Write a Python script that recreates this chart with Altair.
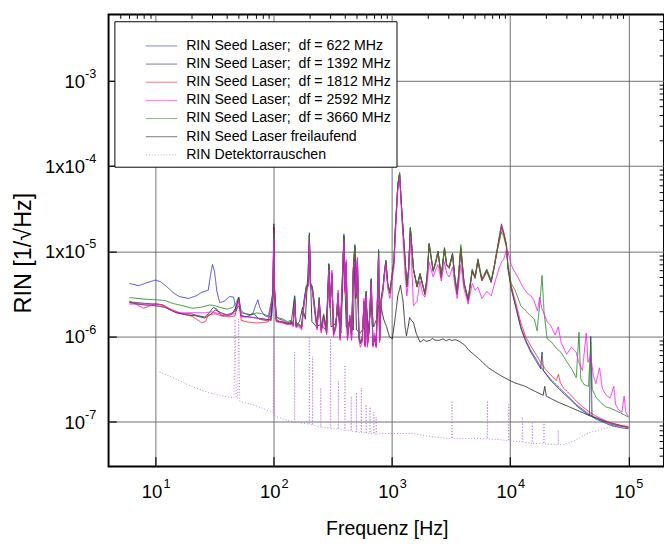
import altair as alt
import pandas as pd

FONT = "Liberation Sans, Arial, sans-serif"
XMIN, XMAX = 4, 2e5
YMIN, YMAX = 3e-8, 6e-3
W, H = 569, 463

XMAJOR = [10, 100, 1000, 10000, 100000]
XMINOR = [5, 6, 7, 8, 9, 20, 30, 40, 50, 60, 70, 80, 90,
          200, 300, 400, 500, 600, 700, 800, 900,
          2000, 3000, 4000, 5000, 6000, 7000, 8000, 9000,
          20000, 30000, 40000, 50000, 60000, 70000, 80000, 90000]
YMAJOR = [1e-7, 1e-6, 1e-5, 1e-4, 1e-3]
YMINOR = [4e-8, 5e-8, 6e-8, 7e-8, 8e-8, 9e-8,
          2e-7, 3e-7, 4e-7, 5e-7, 6e-7, 7e-7, 8e-7, 9e-7,
          2e-6, 3e-6, 4e-6, 5e-6, 6e-6, 7e-6, 8e-6, 9e-6,
          2e-5, 3e-5, 4e-5, 5e-5, 6e-5, 7e-5, 8e-5, 9e-5,
          2e-4, 3e-4, 4e-4, 5e-4, 6e-4, 7e-4, 8e-4, 9e-4,
          2e-3, 3e-3, 4e-3, 5e-3]
XLAB_BASE = ["10", "10", "10", "10", "10"]
XLAB_EXP = ["1", "2", "3", "4", "5"]
YLAB_BASE = ["10", "10", "1x10", "1x10", "10"]
YLAB_EXP = ["-7", "-6", "-5", "-4", "-3"]

S622 = [(6.0,4.2e-6),(7.2,3.95e-6),(8.5,4.3e-6),(10,4.6e-6),(11,4.4e-6),(12.3,3.9e-6),(14,3.3e-6),(15.8,2.95e-6),(19,2.8e-6),(22,3.0e-6),(24.6,3.3e-6),(27.9,3.5e-6),(29.3,5.5e-6),(30.3,7.0e-6),(31.5,5.8e-6),(33,3.4e-6),(34.9,2.5e-6),(38,2.6e-6),(42.3,2.95e-6),(45.8,2.9e-6),(47.9,2.0e-6),(50.5,2.3e-6),(53,1.9e-6),(58,1.85e-6),(63,1.8e-6),(67,1.9e-6),(70,2.3e-6),(73.3,2.7e-6),(76,2.2e-6),(79.5,1.95e-6),(84,1.75e-6),(90,1.7e-6),(96,1.75e-6),(98.5,3.5e-6),(100,1.9e-5),(101.5,3.5e-6),(105,1.7e-6),
        (112,1.6e-6),(120,1.55e-6),(130,1.45e-6),(140,1.5e-6),(146,1.4e-6),(150,2.8e-6),(154,1.35e-6),(162,1.4e-6),(172,1.3e-6),(180,2.6e-6),(188,3.8e-6),(196,4.2e-6),(200,1.55e-5),(204,4.2e-6),(212,3.8e-6),(222,2.2e-6),(232,1.3e-6),(242,2.8e-6),(252,1.2e-6),(264,1.8e-6),(280,1.15e-6),(292,7.2e-6),(300,2.4e-6),(310,5.5e-6),(320,1.1e-6),(335,1.35e-6),(350,3.2e-6),(364,1.0e-6),(380,4.5e-6),(392,1.6e-5),(401,3.6e-6),(410,7.5e-6),(420,1.0e-6),(440,1.7e-6),(455,1.0e-6),(470,6.0e-6),(485,1.2e-5),(495,3.0e-6),(510,8.0e-6),(525,1.0e-6),(540,8.5e-7),(560,9.5e-7),(580,2.6e-6),(592,8.0e-7),(605,3.4e-6),(620,8.2e-7),(640,1.2e-6),(667,4.8e-6),(690,8.0e-7),(715,1.0e-6),(735,7.8e-7),(755,3.2e-6),(770,1.05e-5),(785,9.0e-7),(810,2.8e-6),(840,3.8e-6),(860,5.5e-6),(887,7.8e-6),(920,4.2e-6),(960,3.4e-6),(1000,5.2e-6),
        (1040,8.0e-6),(1070,2.0e-5),(1120,6.0e-5),(1160,8.2e-5),(1210,3.0e-5),(1290,8.0e-6),(1335,4.0e-6),(1380,6.0e-6),(1430,1.9e-5),(1520,6.2e-6),(1630,3.9e-6),(1725,5.5e-6),(1810,4.2e-6),(1900,3.2e-6),(1980,5.0e-6),(2060,1.25e-5),(2230,6.0e-6),(2340,7.5e-6),(2450,1.0e-5),(2610,5.0e-6),(2780,1.1e-5),(2900,7.0e-6),(3050,6.5e-6),(3250,9.5e-6),(3400,5.0e-6),(3560,3.2e-6),(3820,1.1e-5),(4070,4.2e-6),(4410,2.7e-6),(4770,6.0e-6),(5050,5.0e-6),(5330,8.0e-6),(5760,4.6e-6),(6340,6.0e-6),(6900,4.4e-6),(7300,6.5e-6),(7650,9.5e-6),(8100,1.5e-5),(8430,2.1e-5),(8800,1.7e-5),(9300,1.2e-5),(9560,6.5e-6),
        (10200,3.8e-6),(10900,2.6e-6),(12300,1.3e-6),(13500,9.2e-7),(14900,6.9e-7),(16500,5.5e-7),(18100,4.4e-7),(20000,3.7e-7),(21800,3.2e-7),(25000,2.65e-7),(28200,2.25e-7),(32000,1.9e-7),(36200,1.6e-7),(41000,1.4e-7),(46800,1.22e-7),(53000,1.12e-7),(60300,1.03e-7),(68000,9.6e-8),(77600,9.1e-8),(88000,8.8e-8),(100000,8.6e-8)]

S1392 = [(6.0,2.55e-6),(7,2.5e-6),(8.2,2.45e-6),(10,2.4e-6),(11.5,2.35e-6),(13,2.1e-6),(14.5,1.95e-6),(17,1.85e-6),(20,1.85e-6),(23,1.75e-6),(26,1.7e-6),(28,1.85e-6),(30.8,2.2e-6),(33,2.1e-6),(36,1.75e-6),(40,1.8e-6),(45,1.9e-6),(48.5,2.3e-6),(50.5,2.8e-6),(52.5,1.75e-6),(58,1.7e-6),(64,1.8e-6),(68,1.85e-6),(75,1.6e-6),(85,1.55e-6),(94,1.6e-6),(98.5,3.8e-6),(100,2.1e-5),(101.5,3.8e-6),(105,1.6e-6),
         (112,1.5e-6),(120,1.45e-6),(130,1.4e-6),(140,1.45e-6),(146,1.35e-6),(150,3.0e-6),(154,1.3e-6),(162,1.35e-6),(172,1.25e-6),(180,2.4e-6),(188,3.6e-6),(196,4.0e-6),(200,1.65e-5),(204,4.0e-6),(212,3.5e-6),(222,2.0e-6),(232,1.25e-6),(242,2.6e-6),(252,1.15e-6),(264,1.7e-6),(280,1.1e-6),(292,7.0e-6),(300,2.2e-6),(310,5.2e-6),(320,1.05e-6),(335,1.3e-6),(350,3.0e-6),(364,9.5e-7),(380,4.2e-6),(392,1.5e-5),(401,3.4e-6),(410,7.0e-6),(420,9.5e-7),(440,1.6e-6),(455,9.5e-7),(470,5.5e-6),(485,1.15e-5),(495,2.8e-6),(510,7.5e-6),(525,9.5e-7),(540,8.2e-7),(560,9.0e-7),(580,2.4e-6),(592,7.8e-7),(605,3.2e-6),(620,8.0e-7),(640,1.15e-6),(667,4.5e-6),(690,7.8e-7),(715,9.5e-7),(735,7.6e-7),(755,3.0e-6),(770,1.0e-5),(785,8.8e-7),(810,2.6e-6),(840,3.6e-6),(860,5.2e-6),(887,7.5e-6),(920,4.0e-6),(960,3.2e-6),(1000,5.0e-6),
         (1040,7.6e-6),(1070,1.9e-5),(1120,5.8e-5),(1160,8.0e-5),(1210,2.9e-5),(1290,7.6e-6),(1335,3.8e-6),(1380,5.8e-6),(1430,1.85e-5),(1520,6.0e-6),(1630,3.8e-6),(1725,5.3e-6),(1810,4.0e-6),(1900,3.1e-6),(1980,4.8e-6),(2060,1.2e-5),(2230,5.8e-6),(2340,7.2e-6),(2450,9.8e-6),(2610,4.9e-6),(2780,1.05e-5),(2900,6.8e-6),(3050,6.3e-6),(3250,9.0e-6),(3400,4.8e-6),(3560,3.1e-6),(3820,1.05e-5),(4070,4.1e-6),(4410,2.6e-6),(4770,5.8e-6),(5050,4.8e-6),(5330,7.6e-6),(5760,4.5e-6),(6340,5.8e-6),(6900,4.3e-6),(7300,6.3e-6),(7650,9.0e-6),(8100,1.4e-5),(8430,1.9e-5),(8800,1.6e-5),(9300,1.15e-5),(9560,6.3e-6),
         (10200,3.6e-6),(10900,2.5e-6),(12300,1.25e-6),(13500,8.8e-7),(14900,6.6e-7),(16500,5.2e-7),(18100,4.2e-7),(18600,6.6e-7),(19100,4.0e-7),(21800,3.1e-7),(25000,2.55e-7),(28200,2.15e-7),(32000,1.85e-7),(36200,1.55e-7),(41000,1.35e-7),(46800,1.18e-7),(48000,1.0e-6),(49200,1.16e-7),(53000,1.08e-7),(60300,1.0e-7),(68000,9.3e-8),(77600,8.8e-8),(88000,8.5e-8),(100000,8.3e-8)]

S1812 = [(6.0,2.62e-6),(6.8,2.4e-6),(7.9,2.15e-6),(9,2.3e-6),(10,2.45e-6),(11.5,2.35e-6),(13.9,2.05e-6),(17,1.85e-6),(20.4,1.72e-6),(23,1.55e-6),(24.6,1.45e-6),(26.5,1.5e-6),(27.9,1.8e-6),(32,1.85e-6),(36,1.75e-6),(42,1.7e-6),(47,1.75e-6),(50.5,2.7e-6),(53,1.55e-6),(60,1.48e-6),(70,1.45e-6),(80,1.45e-6),(90,1.5e-6),(98.5,3.2e-6),(100,1.8e-5),(101.5,3.2e-6),(105,1.55e-6),
         (112,1.5e-6),(120,1.5e-6),(130,1.42e-6),(140,1.48e-6),(146,1.38e-6),(150,2.7e-6),(154,1.32e-6),(162,1.38e-6),(172,1.28e-6),(180,2.5e-6),(188,3.7e-6),(196,4.1e-6),(200,1.5e-5),(204,4.1e-6),(212,3.7e-6),(222,2.1e-6),(232,1.28e-6),(242,2.7e-6),(252,1.18e-6),(264,1.75e-6),(280,1.12e-6),(292,6.8e-6),(300,2.3e-6),(310,5.4e-6),(320,1.08e-6),(335,1.32e-6),(350,3.1e-6),(364,9.8e-7),(380,4.4e-6),(392,1.45e-5),(401,3.5e-6),(410,7.2e-6),(420,9.8e-7),(440,1.65e-6),(455,9.8e-7),(470,5.8e-6),(485,1.1e-5),(495,2.9e-6),(510,7.8e-6),(525,9.8e-7),(540,8.4e-7),(560,9.2e-7),(580,2.5e-6),(592,7.9e-7),(605,3.3e-6),(620,8.1e-7),(640,1.18e-6),(667,4.6e-6),(690,7.9e-7),(715,9.8e-7),(735,7.7e-7),(755,3.1e-6),(770,9.5e-6),(785,8.9e-7),(810,2.7e-6),(840,3.7e-6),(860,5.3e-6),(887,7.6e-6),(920,4.1e-6),(960,3.3e-6),(1000,5.1e-6),
         (1040,7.8e-6),(1070,1.95e-5),(1120,5.9e-5),(1160,8.1e-5),(1210,2.95e-5),(1290,7.8e-6),(1335,3.9e-6),(1380,5.9e-6),(1430,1.85e-5),(1520,6.1e-6),(1630,3.8e-6),(1725,5.4e-6),(1810,4.1e-6),(1900,3.2e-6),(1980,4.9e-6),(2060,1.2e-5),(2230,5.9e-6),(2340,7.4e-6),(2450,1.0e-5),(2610,5.0e-6),(2780,1.08e-5),(2900,6.9e-6),(3050,6.4e-6),(3250,9.3e-6),(3400,4.9e-6),(3560,3.2e-6),(3820,1.08e-5),(4070,4.2e-6),(4410,2.7e-6),(4770,5.9e-6),(5050,4.9e-6),(5330,7.8e-6),(5760,4.6e-6),(6340,5.9e-6),(6900,4.4e-6),(7300,6.4e-6),(7650,9.3e-6),(8100,1.5e-5),(8430,2.0e-5),(8800,1.65e-5),(9300,1.2e-5),(9560,6.6e-6),
         (10200,3.9e-6),(10900,2.8e-6),(12300,1.45e-6),(13500,1.0e-6),(14900,7.8e-7),(16500,6.2e-7),(18100,5.0e-7),(20000,4.1e-7),(21800,3.6e-7),(24500,3.05e-7),(25600,3.6e-7),(26500,2.9e-7),(28200,2.5e-7),(32000,2.1e-7),(36200,1.75e-7),(41000,1.5e-7),(46800,1.3e-7),(53000,1.17e-7),(60300,1.07e-7),(68000,9.9e-8),(77600,9.4e-8),(88000,9.0e-8),(100000,8.8e-8)]

S2592 = [(6.0,2.4e-6),(8,2.4e-6),(10,2.38e-6),(11,2.35e-6),(13,2.1e-6),(15.3,1.9e-6),(20,1.9e-6),(26.2,1.9e-6),(30,1.95e-6),(35,1.85e-6),(40,1.8e-6),(47,1.85e-6),(50.5,2.7e-6),(53,1.7e-6),(60,1.7e-6),(70,1.65e-6),(80,1.6e-6),(90,1.55e-6),(98.5,3.0e-6),(100,1.4e-5),(101.5,3.0e-6),(105,1.5e-6),
         (112,1.45e-6),(120,1.45e-6),(130,1.38e-6),(140,1.4e-6),(146,1.3e-6),(150,2.5e-6),(154,1.28e-6),(162,1.3e-6),(172,1.2e-6),(180,2.3e-6),(188,3.5e-6),(196,3.9e-6),(200,1.3e-5),(204,3.9e-6),(212,3.4e-6),(222,1.9e-6),(232,1.2e-6),(242,2.5e-6),(252,1.1e-6),(264,1.6e-6),(280,1.05e-6),(292,6.0e-6),(300,2.2e-6),(310,6.0e-6),(320,1.0e-6),(335,1.25e-6),(350,3.5e-6),(364,9.0e-7),(380,5.0e-6),(392,1.3e-5),(401,3.2e-6),(410,8.0e-6),(420,9.0e-7),(440,1.8e-6),(455,9.0e-7),(470,6.5e-6),(485,7.5e-6),(495,3.2e-6),(510,8.5e-6),(525,9.0e-7),(540,7.5e-7),(560,8.5e-7),(580,2.8e-6),(592,7.5e-7),(605,3.0e-6),(620,7.5e-7),(640,1.3e-6),(667,4.2e-6),(690,7.5e-7),(715,1.1e-6),(735,7.4e-7),(755,3.5e-6),(770,8.5e-6),(785,8.5e-7),(810,2.5e-6),(840,3.4e-6),(860,4.8e-6),(887,7.0e-6),(920,3.6e-6),(960,2.8e-6),(1000,4.5e-6),
         (1040,6.5e-6),(1070,1.6e-5),(1120,5.0e-5),(1160,7.2e-5),(1210,2.5e-5),(1290,5.5e-6),(1335,3.0e-6),(1380,4.5e-6),(1430,1.5e-5),(1520,2.3e-6),(1630,2.6e-6),(1725,4.5e-6),(1810,3.2e-6),(1900,2.9e-6),(1980,4.0e-6),(2060,7.5e-6),(2230,5.0e-6),(2340,6.0e-6),(2450,7.0e-6),(2610,4.5e-6),(2780,7.5e-6),(2900,5.5e-6),(3050,5.0e-6),(3250,6.5e-6),(3400,4.0e-6),(3560,2.8e-6),(3820,7.0e-6),(4070,3.6e-6),(4410,2.4e-6),(4770,4.2e-6),(5050,3.5e-6),(5330,3.8e-6),(5760,2.8e-6),(6340,3.4e-6),(6900,3.0e-6),(7300,4.0e-6),(7650,5.0e-6),(8100,6.5e-6),(8430,7.5e-6),(8800,8.0e-6),(9300,1.05e-5),(9560,1.0e-5),
         (10200,7.0e-6),(10700,6.0e-6),(11600,5.0e-6),(12800,3.8e-6),(14000,3.2e-6),(15000,3.0e-6),(15800,2.7e-6),(17000,2.0e-6),(17700,2.9e-6),(18600,2.1e-6),(20500,1.5e-6),(22000,1.35e-6),(24000,1.05e-6),(25500,1.3e-6),(27000,8.5e-7),(30000,6.2e-7),(33000,7.5e-7),(36200,6.5e-7),(38000,5.0e-7),(40800,4.0e-7),(44000,1.1e-6),(45500,5.0e-7),(48000,6.0e-7),(50500,3.5e-7),(53100,2.8e-7),(57000,4.3e-7),(60000,2.5e-7),(64000,2.1e-7),(70000,1.9e-7),(75200,2.6e-7),(78000,1.6e-7),(81800,1.4e-7),(88000,1.3e-7),(92000,2.0e-7),(95000,1.3e-7),(100000,1.15e-7)]

S3660 = [(6.0,2.87e-6),(8,2.75e-6),(10,2.7e-6),(12,2.65e-6),(13.9,2.45e-6),(17,2.3e-6),(20.4,2.15e-6),(24,2.2e-6),(28.8,2.35e-6),(32,2.3e-6),(35,2.2e-6),(40,2.1e-6),(45,2.2e-6),(48,2.5e-6),(50.5,2.9e-6),(53,2.0e-6),(58,1.85e-6),(65,1.8e-6),(72,1.9e-6),(80,1.85e-6),(90,1.75e-6),(98.5,3.3e-6),(100,1.6e-5),(101.5,3.3e-6),(105,1.7e-6),
         (112,1.65e-6),(120,1.6e-6),(130,1.5e-6),(140,1.55e-6),(146,1.45e-6),(150,2.9e-6),(154,1.4e-6),(162,1.42e-6),(172,1.32e-6),(180,2.6e-6),(188,3.9e-6),(196,4.3e-6),(200,1.55e-5),(204,4.3e-6),(212,3.9e-6),(222,2.2e-6),(232,1.35e-6),(242,2.9e-6),(252,1.25e-6),(264,1.85e-6),(280,1.2e-6),(292,7.0e-6),(300,2.5e-6),(310,5.6e-6),(320,1.15e-6),(335,1.4e-6),(350,3.2e-6),(364,1.05e-6),(380,4.6e-6),(392,1.5e-5),(401,3.7e-6),(410,7.4e-6),(420,1.05e-6),(440,1.75e-6),(455,1.05e-6),(470,6.0e-6),(485,1.15e-5),(495,3.1e-6),(510,8.2e-6),(525,1.05e-6),(540,8.8e-7),(560,9.6e-7),(580,2.6e-6),(592,8.2e-7),(605,3.4e-6),(620,8.4e-7),(640,1.22e-6),(667,4.7e-6),(690,8.2e-7),(715,1.02e-6),(735,8.0e-7),(755,3.1e-6),(770,1.0e-5),(785,9.2e-7),(810,2.8e-6),(840,3.8e-6),(860,5.4e-6),(887,7.9e-6),(920,4.2e-6),(960,3.4e-6),(1000,5.2e-6),
         (1040,8.0e-6),(1070,2.0e-5),(1120,6.2e-5),(1160,8.4e-5),(1210,3.0e-5),(1290,8.0e-6),(1335,4.0e-6),(1380,6.0e-6),(1430,1.9e-5),(1520,6.2e-6),(1630,3.9e-6),(1725,5.5e-6),(1810,4.2e-6),(1900,3.3e-6),(1980,5.0e-6),(2060,1.2e-5),(2230,6.0e-6),(2340,7.5e-6),(2450,1.0e-5),(2610,5.2e-6),(2780,1.1e-5),(2900,7.0e-6),(3050,6.6e-6),(3250,9.5e-6),(3400,5.0e-6),(3560,3.3e-6),(3820,1.2e-5),(4070,4.3e-6),(4410,2.8e-6),(4770,6.2e-6),(5050,5.0e-6),(5330,8.2e-6),(5760,4.8e-6),(6340,6.2e-6),(6900,4.6e-6),(7300,6.6e-6),(7650,9.4e-6),(8100,1.3e-5),(8430,1.7e-5),(8800,1.5e-5),(9300,1.1e-5),(9560,7.0e-6),
         (10200,4.2e-6),(11000,3.5e-6),(12300,2.3e-6),(13500,2.0e-6),(14900,1.75e-6),(16000,1.6e-6),(16900,1.17e-6),(17800,2.5e-6),(18600,5.2e-6),(19300,2.0e-6),(20500,9.5e-7),(22500,8.5e-7),(24800,7.2e-7),(27000,6.5e-7),(30000,5.1e-7),(33000,4.2e-7),(36200,3.3e-7),(38200,1.12e-6),(39500,3.2e-7),(42000,2.75e-7),(46000,2.6e-7),(48000,8.6e-7),(49500,2.4e-7),(53100,1.95e-7),(58000,1.7e-7),(64000,1.5e-7),(70000,1.45e-7),(77600,1.36e-7),(88000,1.25e-7),(100000,1.14e-7)]

SFREI = [(6.0,2.5e-6),(8,2.35e-6),(10,2.3e-6),(12,2.2e-6),(15,1.9e-6),(18,1.8e-6),(22,1.75e-6),(26,1.65e-6),(29,1.8e-6),(32,2.05e-6),(36,1.9e-6),(42,1.75e-6),(47,2.0e-6),(50.5,2.9e-6),(53,1.75e-6),(62,1.7e-6),(72,1.65e-6),(85,1.6e-6),(95,1.55e-6),(98.5,3.0e-6),(100,1.9e-5),(101.5,3.0e-6),(105,1.5e-6),
         (112,1.5e-6),(125,1.45e-6),(140,1.4e-6),(150,3.0e-6),(154,1.35e-6),(165,1.5e-6),(175,2.2e-6),(185,1.6e-6),(200,1.2e-5),(210,1.5e-6),(230,1.3e-6),(250,1.4e-6),(275,1.2e-6),(292,5.0e-6),(305,1.3e-6),(330,1.4e-6),(350,2.0e-6),(370,1.1e-6),(392,1.0e-5),(410,1.3e-6),(440,1.5e-6),(470,1.2e-6),(485,8.0e-6),(500,1.2e-6),(540,1.1e-6),(580,1.3e-6),(605,2.5e-6),(630,1.2e-6),(667,2.5e-6),(700,1.3e-6),(740,1.6e-6),(770,2.3e-6),(810,2.2e-6),(850,1.6e-6),(900,1.3e-6),(950,1.0e-6),(1007,9.4e-7),(1060,1.6e-6),(1120,3.0e-6),(1180,4.0e-6),(1240,2.6e-6),(1290,1.3e-6),(1325,1.02e-6),(1370,1.3e-6),(1410,1.67e-6),(1460,1.55e-6),(1520,1.46e-6),(1600,1.1e-6),(1725,8.6e-7),(1850,9.2e-7),(1950,8.8e-7),(2090,9.0e-7),(2200,9.5e-7),(2300,9.1e-7),(2500,9.0e-7),(2700,9.4e-7),(2870,8.9e-7),(3050,9.3e-7),(3200,9.0e-7),(3450,9.2e-7),(3700,8.8e-7),(4100,8.0e-7),(4470,6.9e-7),(4900,6.2e-7),(5400,5.55e-7),(6000,4.8e-7),(6550,4.3e-7),(7500,3.8e-7),(8430,3.45e-7),(9500,3.15e-7),(10900,2.87e-7),(13200,2.63e-7),(16000,2.3e-7),(19000,2.05e-7),(19600,2.6e-7),(20200,2.0e-7),(25000,1.72e-7),(31900,1.49e-7),(40000,1.3e-7),(49800,1.14e-7),(60000,1.05e-7),(73000,9.6e-8),(100000,8.6e-8)]

SDET = [(10.8,3.85e-7),(14,3.3e-7),(18,2.8e-7),(21.7,2.5e-7),(28,2.2e-7),(35,2.05e-7),(42,1.95e-7),(46,1.93e-7),(47,1.6e-6),(48,1.9e-7),(49.5,1.9e-7),(50.5,1.6e-6),(51.5,1.75e-7),(60,1.65e-7),(70,1.55e-7),(80,1.45e-7),(90,1.35e-7),(99,1.3e-7),(100,1.0e-6),(101,1.2e-7),(106,1.14e-7),(130,1.05e-7),(149,1.0e-7),(150,6.6e-7),(151,1.0e-7),(170,9.7e-8),(199,9.4e-8),(200,1.0e-6),(201,9.3e-8),(212,9.2e-8),(213,5.85e-7),(214,9.2e-8),(249,8.7e-8),(250,2.5e-7),(251,8.7e-8),(300,8.4e-8),(302,9.4e-7),(304,8.4e-8),(350,8.2e-8),(352,3.0e-7),(354,8.2e-8),(398,8.0e-8),(400,4.65e-7),(402,8.0e-8),(450,7.8e-8),(452,2.0e-7),(454,7.8e-8),(498,7.6e-8),(500,2.2e-7),(502,7.6e-8),(548,7.5e-8),(550,2.5e-7),(552,7.5e-8),(603,7.4e-8),(605,1.6e-7),(607,7.4e-8),(650,7.3e-8),(652,1.5e-7),(654,7.3e-8),(700,7.3e-8),(702,1.3e-7),(704,7.2e-8),(733,7.2e-8),(735,1.14e-7),(740,7.2e-8),(800,7.3e-8),(1000,7.3e-8),(1500,7.3e-8),(2000,6.8e-8),(2870,6.4e-8),(3200,6.4e-8),(3220,1.77e-7),(3240,6.4e-8),(4500,6.4e-8),(5400,6.4e-8),(6380,6.3e-8),(6410,1.77e-7),(6440,6.3e-8),(8000,6.2e-8),(9650,6.0e-8),(9700,1.6e-7),(9750,6.0e-8),(12600,5.8e-8),(12700,1.14e-7),(12800,5.8e-8),(15300,5.6e-8),(15400,9.6e-8),(15500,5.6e-8),(19200,5.5e-8),(19300,1.0e-7),(19400,5.5e-8),(25400,5.4e-8),(25500,8.0e-8),(25600,5.4e-8),(28200,5.4e-8),(35000,6.0e-8),(46800,7.5e-8),(60000,8.2e-8),(73000,8.8e-8),(100000,9.2e-8)]

NAMES = ["RIN Seed Laser;\u00a0 df = 622 MHz",
         "RIN Seed Laser;\u00a0 df = 1392 MHz",
         "RIN Seed Laser;\u00a0 df = 1812 MHz",
         "RIN Seed Laser;\u00a0 df = 2592 MHz",
         "RIN Seed Laser;\u00a0 df = 3660 MHz",
         "RIN Seed Laser freilaufend",
         "RIN Detektorrauschen"]
COLORS = ["#3535d5", "#2c2c68", "#ff2020", "#ff10ff", "#1a8a1a", "#202020", "#b478dc"]
DASHES = [[1, 0], [1, 0], [1, 0], [1, 0], [1, 0], [1, 0], [1, 2]]
SERIES = [S622, S1392, S1812, S2592, S3660, SFREI, SDET]
DRAW_ORDER = [6, 5, 0, 1, 2, 4, 3]

xscale = alt.Scale(type="log", domain=[XMIN, XMAX])
yscale = alt.Scale(type="log", domain=[YMIN, YMAX])

x_axis = alt.Axis(values=XMAJOR, grid=True, gridColor="#6e6e6e", gridWidth=1,
                  domain=False, labels=False, ticks=True, tickSize={"expr": "-10"},
                  tickColor="black", tickWidth=1.2,
                  title="Frequenz [Hz]", titleFont=FONT, titleFontSize=20,
                  titleFontWeight="normal", titleColor="black",
                  titleX=285, titleY=64, titleBaseline="middle", titleAlign="center")
y_axis = alt.Axis(values=YMAJOR, grid=True, gridColor="#6e6e6e", gridWidth=1,
                  domain=False, labels=False, ticks=True, tickSize={"expr": "-8"},
                  tickColor="black", tickWidth=1.2,
                  title="RIN [1/\u221aHz]", titleFont=FONT, titleFontSize=24,
                  titleFontWeight="normal", titleColor="black", titleAngle=270,
                  titleX=-87, titleY=244, titleBaseline="middle", titleAlign="center")

legend = alt.Legend(orient="none", legendX=6, legendY=7, title=" ", titleFontSize=10,
                    titlePadding=3, fillColor="white", strokeColor="black", padding=5,
                    labelFont=FONT, labelFontSize=14.5, labelColor="black", labelLimit=400,
                    symbolType="M-4,0H4", symbolSize=64, symbolStrokeWidth=1,
                    symbolOffset=36, labelOffset=18, rowPadding=3.6, symbolOpacity=0.7)

line_layers = []
for i in DRAW_ORDER:
    d = pd.DataFrame({"f": [p[0] for p in SERIES[i]],
                      "v": [p[1] for p in SERIES[i]],
                      "k": list(range(len(SERIES[i]))),
                      "name": NAMES[i]})
    line_layers.append(
        alt.Chart(d).mark_line(clip=True, strokeWidth=0.9).encode(
            x=alt.X("f:Q", scale=xscale, axis=x_axis),
            y=alt.Y("v:Q", scale=yscale, axis=y_axis),
            color=alt.Color("name:N", scale=alt.Scale(domain=NAMES, range=COLORS), legend=legend),
            strokeDash=alt.StrokeDash("name:N", scale=alt.Scale(domain=NAMES, range=DASHES), legend=legend),
            order="k:Q",
        )
    )
lines = alt.layer(*line_layers)

minor = alt.Chart(pd.DataFrame({"f": [XMIN], "v": [YMIN]})).mark_point(opacity=0).encode(
    x=alt.X("f:Q", scale=xscale,
            axis=alt.Axis(values=XMINOR, grid=False, domain=False, labels=False,
                          tickSize={"expr": "-4"}, tickColor="black", tickWidth=1, title=None)),
    y=alt.Y("v:Q", scale=yscale,
            axis=alt.Axis(values=YMINOR, grid=False, domain=False, labels=False,
                          tickSize={"expr": "-5"}, tickColor="black", tickWidth=1, title=None)),
)

xl = pd.DataFrame({"f": XMAJOR, "v": [YMIN] * 5, "b": XLAB_BASE, "e": XLAB_EXP})
yl = pd.DataFrame({"f": [XMIN] * 5, "v": YMAJOR, "b": YLAB_BASE, "e": YLAB_EXP})

def txt(df, col, **kw):
    return alt.Chart(df).mark_text(font=FONT, color="black", **kw).encode(
        x=alt.X("f:Q", scale=xscale, axis=None),
        y=alt.Y("v:Q", scale=yscale, axis=None),
        text=f"{col}:N",
    )

xb = txt(xl, "b", align="right", baseline="alphabetic", dx=7, dy=32, fontSize=19)
xe = txt(xl, "e", align="left", baseline="alphabetic", dx=8, dy=22, fontSize=13)
yb = txt(yl, "b", align="right", baseline="middle", dx=-24, dy=1, fontSize=19)
ye = txt(yl, "e", align="left", baseline="middle", dx=-24, dy=-7, fontSize=13)

chart = alt.layer(lines, minor, xb, xe, yb, ye).resolve_scale(
    x="independent", y="independent"
).properties(
    width=W, height=H,
    padding={"left": 103, "top": 0, "right": 0, "bottom": 78},
    autosize=alt.AutoSizeParams(type="none"),
    background="white",
).configure_view(stroke="black", strokeWidth=2)

chart.save("out.html", embed_options={"renderer": "svg", "actions": False})
